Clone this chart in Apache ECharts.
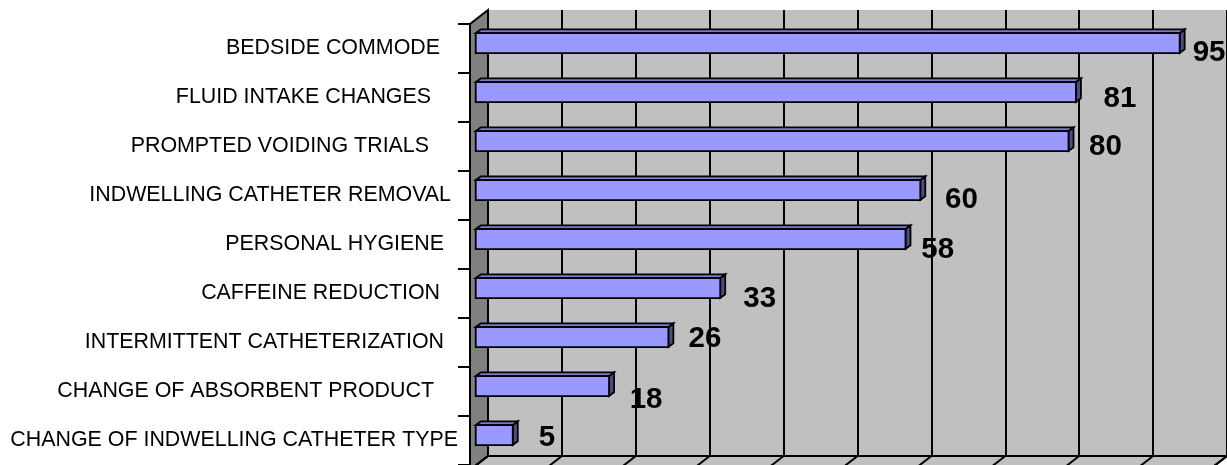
<!DOCTYPE html>
<html>
<head>
<meta charset="utf-8">
<script src="https://cdn.jsdelivr.net/npm/echarts@6/dist/echarts.min.js"></script>
<style>
  html, body { margin: 0; padding: 0; background: #ffffff; }
  #chart { width: 1227px; height: 465px; }
</style>
</head>
<body>
<div id="chart"></div>
<script>
// Interventions, listed from the top bar down
const categories = [
  'BEDSIDE COMMODE',
  'FLUID INTAKE CHANGES',
  'PROMPTED VOIDING TRIALS',
  'INDWELLING CATHETER REMOVAL',
  'PERSONAL HYGIENE',
  'CAFFEINE REDUCTION',
  'INTERMITTENT CATHETERIZATION',
  'CHANGE OF ABSORBENT PRODUCT',
  'CHANGE OF INDWELLING CATHETER TYPE'
];
const values = [95, 81, 80, 60, 58, 33, 26, 18, 5];
const axisMin = 0;
const axisMax = 100;
const axisStep = 10;

// ---- layout & styling ----
const FONT = '"Liberation Sans", Arial, Helvetica, sans-serif';
const FRONT = { left: 470, top: 24, width: 741, height: 446 };   // front plane of the 3D box
const DEPTH = { x: 18, y: -14 };                                  // offset front plane -> back wall
const BAR = {
  inset: 5.7,          // bar face sits a little behind the front plane
  topFrac: -0.312,     // face top, as a fraction of the band, from band centre
  heightFrac: 0.405,   // face height, as a fraction of the band
  depthX: 5, depthY: -3.8,
  front: '#9999ff', top: '#7a7acc', side: '#4d4d80'
};
// per-label nudges: category labels [right pad, lift] and value labels [dx, dy]
const catLabelPad = [[18, 2.4], [27, 3.4], [29, 4.5], [7, 5.9], [14, 8], [18, 9], [14, 10.4], [24, 11.5], [0, 3.9]];
const valueLabelShift = [[29.4, 4.3], [44.1, 1.6], [37, 0.5], [41.2, 4.4], [32.3, 5], [39.5, 5.6], [36.6, -3.5], [37, 8.5], [34.3, -2.2]];

const BACK = { left: FRONT.left + DEPTH.x, top: FRONT.top + DEPTH.y, width: FRONT.width, height: FRONT.height };

const chart = echarts.init(document.getElementById('chart'), null, { renderer: 'canvas' });

function renderWalls(params, api) {
  const tl = api.coord([axisMin, 1]);
  const bl = api.coord([axisMin, 0]);
  const br = api.coord([axisMax, 0]);
  const fx = -DEPTH.x, fy = -DEPTH.y;
  const children = [];
  // left side wall
  children.push({
    type: 'polygon',
    shape: { points: [[tl[0] + fx, tl[1] + fy], [tl[0], tl[1]], [bl[0], bl[1]], [bl[0] + fx, bl[1] + fy]] },
    style: { fill: '#808080', stroke: '#000', lineWidth: 2 }
  });
  // floor
  children.push({
    type: 'polygon',
    shape: { points: [[bl[0], bl[1]], [br[0], br[1]], [br[0] + fx, br[1] + fy], [bl[0] + fx, bl[1] + fy]] },
    style: { fill: '#c0c0c0', stroke: '#000', lineWidth: 2 }
  });
  for (let t = axisMin; t <= axisMax; t += axisStep) {
    const p = api.coord([t, 0]);
    children.push({
      type: 'line',
      shape: { x1: p[0], y1: p[1], x2: p[0] + fx, y2: p[1] + fy },
      style: { stroke: '#000', lineWidth: 2 }
    });
  }
  return { type: 'group', children };
}

function renderBar(params, api) {
  const v = api.value(0);
  const i = api.value(1);
  const base = api.coord([axisMin, i]);
  const end = api.coord([v, i]);
  const band = api.size([0, 1])[1];
  const x0 = base[0] + BAR.inset;
  const x1 = end[0] + BAR.inset;
  const yT = base[1] + BAR.topFrac * band;
  const yB = yT + BAR.heightFrac * band;
  const dx = BAR.depthX, dy = BAR.depthY;
  const edge = { stroke: '#000', lineWidth: 1.8, lineJoin: 'miter' };
  const shift = valueLabelShift[params.dataIndex];
  return {
    type: 'group',
    children: [
      { type: 'polygon', shape: { points: [[x0, yT], [x1, yT], [x1 + dx, yT + dy], [x0 + dx, yT + dy]] },
        style: Object.assign({ fill: BAR.top }, edge) },
      { type: 'polygon', shape: { points: [[x1, yT], [x1 + dx, yT + dy], [x1 + dx, yB + dy], [x1, yB]] },
        style: Object.assign({ fill: BAR.side }, edge) },
      { type: 'rect', shape: { x: x0, y: yT, width: x1 - x0, height: yB - yT },
        style: Object.assign({ fill: BAR.front }, edge) },
      { type: 'text',
        style: {
          text: String(v), x: x1 + shift[0], y: base[1] + shift[1],
          align: 'center', verticalAlign: 'middle',
          font: 'bold 29.5px ' + FONT, fill: '#000'
        } }
    ]
  };
}

const option = {
  animation: false,
  backgroundColor: '#ffffff',
  grid: [
    { left: FRONT.left, top: FRONT.top, width: FRONT.width, height: FRONT.height, containLabel: false },
    { left: BACK.left, top: BACK.top, width: BACK.width, height: BACK.height, containLabel: false,
      show: true, backgroundColor: '#c0c0c0', borderWidth: 0 }
  ],
  xAxis: [
    { gridIndex: 0, type: 'value', min: axisMin, max: axisMax, interval: axisStep, show: false },
    { gridIndex: 1, type: 'value', min: axisMin, max: axisMax, interval: axisStep, position: 'top',
      axisLine: { show: true, lineStyle: { color: '#000', width: 2 } },
      axisTick: { show: false }, axisLabel: { show: false },
      splitLine: { show: true, lineStyle: { color: '#000', width: 2 } } }
  ],
  yAxis: [
    { gridIndex: 0, type: 'category', inverse: true,
      data: categories.map((c, i) => ({
        value: c,
        textStyle: { padding: [0, catLabelPad[i][0], catLabelPad[i][1] * 2, 0] }
      })),
      axisLine: { show: true, lineStyle: { color: '#000', width: 2 } },
      axisTick: { show: true, length: 12, lineStyle: { color: '#000', width: 2 } },
      axisLabel: { margin: 12, fontSize: 21.4, fontFamily: FONT, color: '#000' },
      splitLine: { show: false }, z: 5 },
    { gridIndex: 1, type: 'value', min: 0, max: 1, show: false }
  ],
  series: [
    { type: 'custom', name: 'walls', xAxisIndex: 1, yAxisIndex: 1, clip: false, z: 1,
      data: [[0, 0]], renderItem: renderWalls, silent: true },
    { type: 'custom', name: 'interventions', xAxisIndex: 0, yAxisIndex: 0, clip: false, z: 3,
      encode: { x: 0, y: 1 },
      data: values.map((v, i) => [v, i]), renderItem: renderBar }
  ]
};

chart.setOption(option);
</script>
</body>
</html>
